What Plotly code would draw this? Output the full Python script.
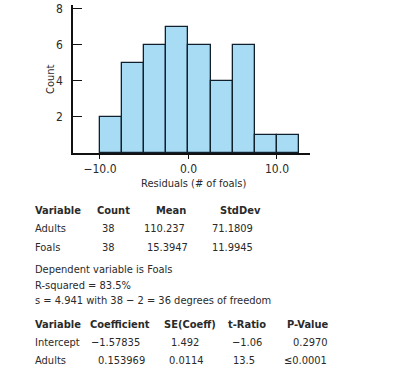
import plotly.graph_objects as go

# Histogram of residuals
bin_left = [-10.0, -7.5, -5.0, -2.5, 0.0, 2.5, 5.0, 7.5, 10.0]
bin_width = 2.5
counts = [2, 5, 6, 7, 6, 4, 6, 1, 1]
x_ticks = [-10, 0, 10]
x_ticktext = ["\u221210.0", "0.0", "10.0"]
y_ticks = [2, 4, 6, 8]

# Summary table 1
t1_header = ["Variable", "Count", "Mean", "StdDev"]
t1_vars = ["Adults", "Foals"]
t1_count = ["38", "38"]
t1_mean = ["110.237", "15.3947"]
t1_std = ["71.1809", "11.9945"]

# Regression text
reg_lines = ["Dependent variable is Foals",
             "R-squared = 83.5%",
             "s = 4.941 with 38 \u2212 2 = 36 degrees of freedom"]

# Summary table 2
t2_header = ["Variable", "Coefficient", "SE(Coeff)", "t-Ratio", "P-Value"]
t2_vars = ["Intercept", "Adults"]
t2_coef = ["\u22121.57835", "0.153969"]
t2_se = ["1.492", "0.0114"]
t2_t = ["\u22121.06", "13.5"]
t2_p = ["0.2970", "\u22640.0001"]

W, H = 402, 372
L, R, T, B = 73, 310, 5, 153
FONT = "DejaVu Sans Condensed, Liberation Sans Narrow, Arial Narrow, sans-serif"
FS = 11
TXT = "#2a2a2a"

def px(x):
    return (x - L) / (R - L)

def py(y):
    return (B - y) / (B - T)

centers = [b + bin_width / 2 for b in bin_left]

fig = go.Figure()
fig.add_trace(go.Bar(
    x=centers, y=counts, width=[bin_width] * len(counts),
    marker=dict(color="#a8dcf4", line=dict(color="#10202c", width=1.3)),
    hoverinfo="skip",
))

ann = []
def text(s, x, y, anchor="left", bold=False, size=FS):
    ann.append(dict(text=("<b>%s</b>" % s) if bold else s,
                    x=px(x), y=py(y), xref="paper", yref="paper",
                    xanchor=anchor, yanchor="middle", showarrow=False,
                    font=dict(family=FONT, size=size, color=TXT)))

# y title
ann.append(dict(text="Count", x=px(50), y=py(79), xref="paper", yref="paper",
                textangle=-90, showarrow=False, xanchor="center", yanchor="middle",
                font=dict(family=FONT, size=FS, color=TXT)))
text("Residuals (# of foals)", 194, 183, anchor="center")

# Table 1
ry = [210, 228, 247]
text(t1_header[0], 33, ry[0], bold=True)
text(t1_header[1], 113, ry[0], anchor="center", bold=True)
text(t1_header[2], 171, ry[0], anchor="center", bold=True)
text(t1_header[3], 218, ry[0], bold=True)
mean_right = [187, 190]
for i in range(2):
    text(t1_vars[i], 33, ry[i + 1])
    text(t1_count[i], 117, ry[i + 1], anchor="right")
    text(t1_mean[i], mean_right[i], ry[i + 1], anchor="right")
    text(t1_std[i], 255, ry[i + 1], anchor="right")

# Regression text
for s, y in zip(reg_lines, [269, 285, 300]):
    text(s, 33, y)

# Table 2
ry2 = [324, 342, 360]
text(t2_header[0], 33, ry2[0], bold=True)
text(t2_header[1], 120, ry2[0], anchor="center", bold=True)
text(t2_header[2], 190, ry2[0], anchor="center", bold=True)
text(t2_header[3], 247, ry2[0], anchor="center", bold=True)
text(t2_header[4], 308, ry2[0], anchor="center", bold=True)
coef_r = [142, 147]
se_r = [201, 206]
t_r = [264, 257]
p_r = [330, 329]
for i in range(2):
    text(t2_vars[i], 33, ry2[i + 1])
    text(t2_coef[i], coef_r[i], ry2[i + 1], anchor="right")
    text(t2_se[i], se_r[i], ry2[i + 1], anchor="right")
    text(t2_t[i], t_r[i], ry2[i + 1], anchor="right")
    text(t2_p[i], p_r[i], ry2[i + 1], anchor="right")

fig.update_layout(
    width=W, height=H,
    margin=dict(l=L, r=W - R, t=T, b=H - B, pad=0, autoexpand=False),
    paper_bgcolor="white", plot_bgcolor="white",
    showlegend=False, bargap=0,
    font=dict(family=FONT, size=FS, color=TXT),
    annotations=ann,
    xaxis=dict(range=[-13.05, 13.73], tickvals=x_ticks, ticktext=x_ticktext,
               automargin=False,
               ticks="outside", ticklen=4, tickwidth=1.2, tickcolor="#111",
               showline=True, linecolor="#111", linewidth=1.5,
               showgrid=False, zeroline=False, fixedrange=True,
               tickfont=dict(family=FONT, size=FS + 1, color=TXT)),
    yaxis=dict(range=[0, 8.22], tickvals=y_ticks,
               automargin=False,
               ticks="inside", ticklen=9, tickwidth=1.2, tickcolor="#111",
               ticklabelstandoff=6,
               showline=True, linecolor="#111", linewidth=1.5,
               showgrid=False, zeroline=False, fixedrange=True,
               tickfont=dict(family=FONT, size=FS + 1, color=TXT)),
)

fig.write_html("out.html", config={"displayModeBar": False},
               post_script="document.body.style.margin='0';")
